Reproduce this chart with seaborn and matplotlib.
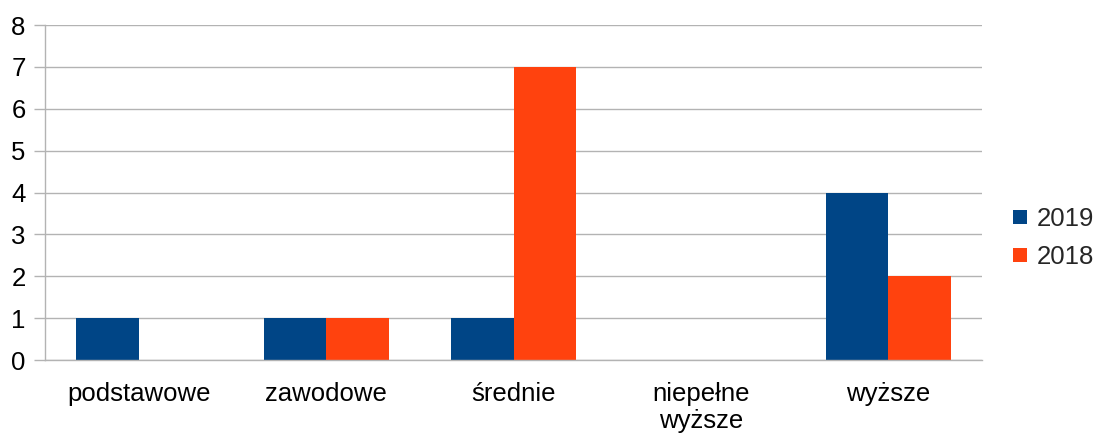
import matplotlib
matplotlib.use("Agg")
import matplotlib.pyplot as plt
from matplotlib.lines import Line2D
from matplotlib.ticker import FixedLocator, MultipleLocator
import seaborn as sns
import pandas as pd

categories = ["podstawowe", "zawodowe", "średnie", "niepełne\nwyższe", "wyższe"]
series_names = ["2019", "2018"]
values_2019 = [1, 1, 1, 0, 4]
values_2018 = [0, 1, 7, 0, 2]
colors = ["#004586", "#ff420e"]

df = pd.DataFrame({
    "kategoria": categories * 2,
    "rok": [series_names[0]] * len(categories) + [series_names[1]] * len(categories),
    "liczba": values_2019 + values_2018,
})

sns.set_style("white")
plt.rcParams["font.family"] = ["Liberation Sans", "DejaVu Sans"]
fs = 18.5
plt.rcParams["font.size"] = fs

fig = plt.figure(figsize=(10.94, 4.33), dpi=100)
ax = fig.add_axes([45 / 1094, 1 - 360 / 433, (982 - 45) / 1094, (360 - 25) / 433])

sns.barplot(data=df, x="kategoria", y="liczba", hue="rok", order=categories,
            hue_order=series_names, palette=colors, width=0.667, gap=0,
            saturation=1, linewidth=0, ax=ax, legend=False)

grid_c = "#b3b3b3"
ax.set_xlim(-0.5, len(categories) - 0.5)
ax.set_ylim(0, 8)
ax.yaxis.set_major_locator(MultipleLocator(1))
ax.grid(axis="y", color=grid_c, linewidth=1)
ax.set_axisbelow(True)
for s in ["top", "right"]:
    ax.spines[s].set_visible(False)
for s in ["left", "bottom"]:
    ax.spines[s].set_color(grid_c)
    ax.spines[s].set_linewidth(1)

ax.set_xlabel("")
ax.set_ylabel("")
ax.tick_params(axis="x", which="major", length=0, pad=16, labelsize=fs, colors="black")
ax.xaxis.set_minor_locator(FixedLocator([i - 0.5 for i in range(len(categories) + 1)]))
ax.tick_params(axis="x", which="minor", length=8, width=1, color=grid_c)
ax.tick_params(axis="y", which="major", length=8, width=1, color=grid_c,
               labelsize=fs, labelcolor="black", pad=6, left=True)
for lbl in ax.get_xticklabels():
    lbl.set_horizontalalignment("center")
    lbl.set_linespacing(1.15)

handles = [Line2D([], [], linestyle="none", marker="s", markersize=10.5,
                  markerfacecolor=c, markeredgewidth=0) for c in colors]
fig.legend(handles, series_names, loc="center left",
           bbox_to_anchor=(1010 / 1094, 1 - 238 / 433), frameon=False,
           fontsize=fs, handlelength=0.8, handletextpad=0.25, labelspacing=0.53,
           borderpad=0, borderaxespad=0)

fig.savefig("out.png", dpi=100)
